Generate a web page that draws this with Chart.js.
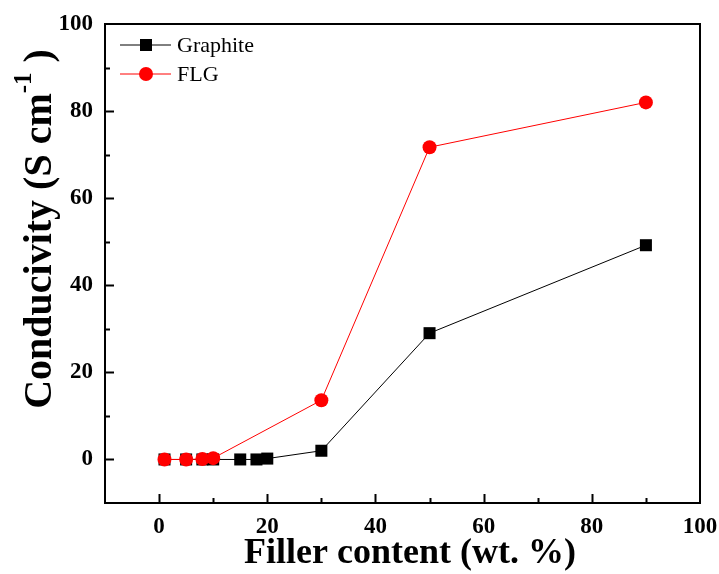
<!DOCTYPE html>
<html>
<head>
<meta charset="utf-8">
<script src="https://cdn.jsdelivr.net/npm/chart.js@4"></script>
<style>
  body { margin: 0; background: #fff; }
  canvas { display: block; }
</style>
</head>
<body>
<canvas id="chart" width="719" height="574"></canvas>
<script>
const graphiteX = [1, 5, 8, 10, 15, 18, 20, 30, 50, 90];
const graphiteY = [0, 0, 0, 0, 0, 0, 0.2, 2, 29, 49.2];
const flgX = [1, 5, 8, 10, 30, 50, 90];
const flgY = [0, 0, 0.1, 0.3, 13.6, 71.7, 82];
const xTickValues = [0, 20, 40, 60, 80, 100];
const minorTicks = [-10, 0, 10, 20, 30, 40, 50, 60, 70, 80, 90, 100];
const xTitle = "Filler content (wt. %)";

const serif = "'Liberation Serif', 'Times New Roman', serif";

const toPoints = (xs, ys) => xs.map((x, i) => ({ x: x, y: ys[i] }));

// inward tick marks + closed frame, like the origin plot
const framePlugin = {
  id: "frame",
  afterDatasetsDraw(chart) {
    const { ctx, chartArea: a, scales } = chart;
    ctx.save();
    ctx.strokeStyle = "#000";
    ctx.lineWidth = 2;
    minorTicks.forEach(v => {
      const len = v % 20 === 0 ? 9 : 5;
      const px = Math.round(scales.x.getPixelForValue(v)) + 0.5;
      const py = Math.round(scales.y.getPixelForValue(v)) + 0.5;
      if (px > a.left + 2 && px < a.right - 2) {
        ctx.beginPath();
        ctx.moveTo(px, a.bottom);
        ctx.lineTo(px, a.bottom - len);
        ctx.stroke();
      }
      if (py < a.bottom - 2 && py > a.top + 2) {
        ctx.beginPath();
        ctx.moveTo(a.left, py);
        ctx.lineTo(a.left + len, py);
        ctx.stroke();
      }
    });
    ctx.strokeRect(a.left, a.top, a.right - a.left, a.bottom - a.top);
    ctx.restore();
  },
  afterDraw(chart) {
    const { ctx } = chart;

    // x axis title
    ctx.save();
    ctx.fillStyle = "#000";
    ctx.textAlign = "center";
    ctx.textBaseline = "middle";
    ctx.font = "bold 36px " + serif;
    ctx.fillText(xTitle, 410, 554);
    ctx.restore();

    ctx.save();
    // y axis title with superscript
    ctx.translate(41, 229);
    ctx.rotate(-Math.PI / 2);
    ctx.fillStyle = "#000";
    ctx.textBaseline = "middle";
    const big = "bold 40px " + serif;
    const small = "bold 25px " + serif;
    const p1 = "Conducivity (S cm";
    const p2 = "-1";
    const p3 = " )";
    ctx.font = big;
    const w1 = ctx.measureText(p1).width;
    const w3 = ctx.measureText(p3).width;
    ctx.font = small;
    const w2 = ctx.measureText(p2).width;
    let x = -(w1 + w2 + w3) / 2;
    ctx.font = big;
    ctx.fillText(p1, x, 0);
    x += w1;
    ctx.font = small;
    ctx.fillText(p2, x, -16);
    x += w2;
    ctx.font = big;
    ctx.fillText(p3, x, 0);
    ctx.restore();

    // legend: line - marker - line, then label
    ctx.save();
    ctx.font = "22px " + serif;
    ctx.textBaseline = "middle";
    chart.data.datasets.forEach((ds, i) => {
      const y = 45 + i * 29;
      ctx.strokeStyle = ds.borderColor;
      ctx.lineWidth = 1;
      ctx.beginPath();
      ctx.moveTo(120, y);
      ctx.lineTo(171, y);
      ctx.stroke();
      ctx.fillStyle = ds.pointBackgroundColor;
      if (ds.pointStyle === "rect") {
        ctx.fillRect(140, y - 6, 12, 12);
      } else {
        ctx.beginPath();
        ctx.arc(146, y, 7, 0, Math.PI * 2);
        ctx.fill();
      }
      ctx.fillStyle = "#000";
      ctx.fillText(ds.label, 177, y + 1);
    });
    ctx.restore();
  }
};

const ctx = document.getElementById("chart").getContext("2d");

new Chart(ctx, {
  type: "scatter",
  data: {
    datasets: [
      {
        label: "Graphite",
        data: toPoints(graphiteX, graphiteY),
        showLine: true,
        borderColor: "#000000",
        borderWidth: 1,
        pointStyle: "rect",
        pointRadius: 8.5,
        pointBackgroundColor: "#000000",
        pointBorderWidth: 0,
        order: 1,
      },
      {
        label: "FLG",
        data: toPoints(flgX, flgY),
        showLine: true,
        borderColor: "#ff0000",
        borderWidth: 1,
        pointStyle: "circle",
        pointRadius: 7,
        pointBackgroundColor: "#ff0000",
        pointBorderWidth: 0,
        order: 0,
      },
    ],
  },
  options: {
    responsive: false,
    animation: false,
    devicePixelRatio: 1,
    layout: { padding: { top: 24, right: 19, left: 0, bottom: 0 } },
    plugins: {
      legend: { display: false },
      tooltip: { enabled: false },
    },
    scales: {
      x: {
        type: "linear",
        min: -10,
        max: 100,
        afterFit: (scale) => {
          scale.height = 71;
          scale.paddingLeft = 0;
          scale.paddingRight = 0;
        },
        afterBuildTicks: (scale) => { scale.ticks = xTickValues.map(v => ({ value: v })); },
        grid: { display: false, drawTicks: false },
        border: { display: false },
        ticks: {
          color: "#000",
          padding: 10,
          maxRotation: 0,
          font: { family: serif, size: 23, weight: "bold" },
        },
      },
      y: {
        type: "linear",
        min: -10,
        max: 100,
        afterFit: (scale) => {
          scale.width = 105;
          scale.paddingTop = 0;
          scale.paddingBottom = 0;
        },
        afterBuildTicks: (scale) => { scale.ticks = xTickValues.map(v => ({ value: v })); },
        grid: { display: false, drawTicks: false },
        border: { display: false },
        ticks: {
          color: "#000",
          padding: 12,
          font: { family: serif, size: 23, weight: "bold" },
        },
      },
    },
  },
  plugins: [framePlugin],
});
</script>
</body>
</html>
